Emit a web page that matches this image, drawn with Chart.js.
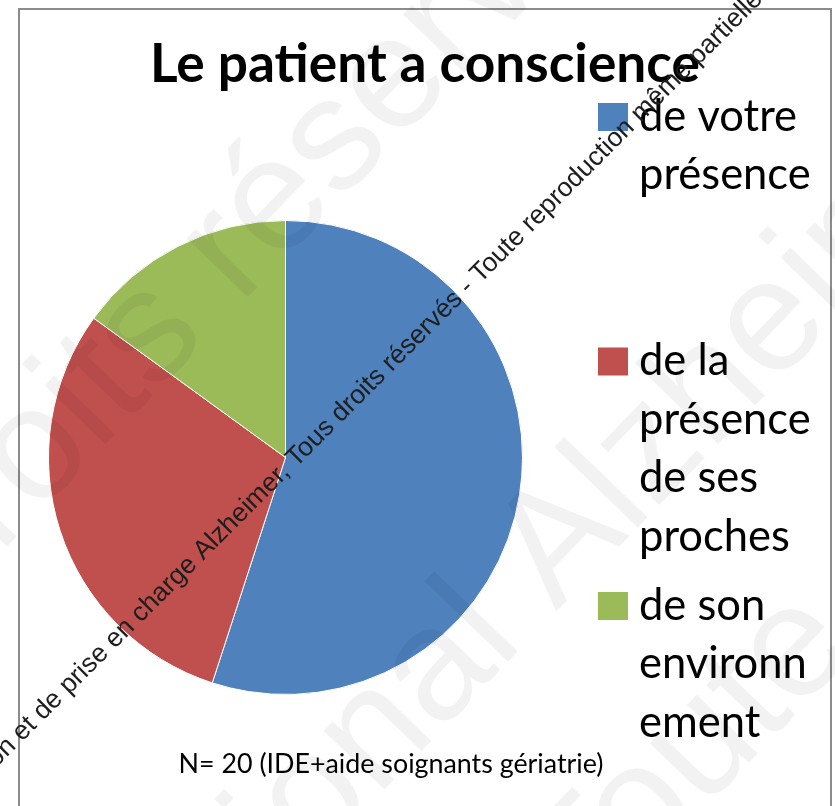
<!DOCTYPE html>
<html>
<head>
<meta charset="utf-8">
<script src="https://cdn.jsdelivr.net/npm/chart.js@4"></script>
<style>
  body { margin: 0; background: #fff; }
  canvas { display: block; }
</style>
</head>
<body>
<canvas id="pieChart" width="835" height="806"></canvas>
<script>
const categories = ['de votre présence', 'de la présence de ses proches', 'de son environnement'];
const legendLines = [['de votre', 'présence'], ['de la', 'présence', 'de ses', 'proches'], ['de son', 'environn', 'ement']];
const counts = [11, 6, 3];
const colors = ['#4F81BD', '#C0504D', '#9BBB59'];
const titleText = 'Le patient a conscience';
const noteText = 'N= 20 (IDE+aide soignants gériatrie)';
const stampLeft = 'tion et de prise en charge Alzheimer, ';
const stampRight = 'Tous droits réservés - Toute reproduction même partielle';

// taille de police pour qu'un texte fasse une largeur donnée
function fitFont(ctx, text, weight, family, width) {
  ctx.font = weight + ' 100px ' + family;
  return 100 * width / ctx.measureText(text).width;
}

function diag(ctx, x, y, angle, left, right) {
  ctx.save();
  ctx.translate(x, y);
  ctx.rotate(angle);
  ctx.textAlign = 'right';
  ctx.fillText(left, 0, 0);
  ctx.textAlign = 'left';
  ctx.fillText(right, 0, 0);
  ctx.restore();
}

const decor = {
  id: 'decor',
  beforeDraw(chart) {
    const ctx = chart.ctx;
    ctx.save();
    ctx.fillStyle = '#fff';
    ctx.fillRect(0, 0, chart.width, chart.height);
    ctx.restore();
  },
  afterDraw(chart) {
    const ctx = chart.ctx;
    ctx.save();
    ctx.textBaseline = 'alphabetic';

    // titre
    ctx.fillStyle = '#000';
    ctx.textAlign = 'center';
    const ts = fitFont(ctx, titleText, 'bold', 'Lato', 550);
    ctx.font = 'bold ' + ts + 'px Lato';
    ctx.fillText(titleText, 425, 82);

    // note
    const ns = fitFont(ctx, noteText, 'normal', 'Lato', 425);
    ctx.font = ns + 'px Lato';
    ctx.fillText(noteText, 391, 773);

    // légende
    ctx.textAlign = 'left';
    ctx.font = '43.5px Lato';
    legendLines.forEach((lines, i) => {
      const top = 103 + i * 244.5;
      ctx.fillStyle = colors[i];
      ctx.fillRect(598, top, 30, 28);
      ctx.fillStyle = '#000';
      lines.forEach((l, j) => ctx.fillText(l, 639, top + 27.5 + j * 58.5));
    });

    // cadre
    ctx.strokeStyle = '#8c8c8c';
    ctx.lineWidth = 2;
    ctx.strokeRect(19, 9, 812, 820);

    // filigrane
    ctx.fillStyle = 'rgba(0,0,0,0.05)';
    ctx.font = '160px "Liberation Sans"';
    const a = -46 * Math.PI / 180;
    diag(ctx, 240, 305, a, 'Tous droits ', 'réservés');
    diag(ctx, 556, 612, a, 'national ', 'Alzheimer');
    diag(ctx, 586, 931, a, '', 'Toute reproduction');

    // mention de droits
    ctx.fillStyle = '#1e1e1e';
    ctx.font = '26.5px "Liberation Sans"';
    diag(ctx, 296, 468, -Math.PI / 4, stampLeft, stampRight);
    ctx.restore();
  }
};

const ctx = document.getElementById('pieChart').getContext('2d');
const myChart = new Chart(ctx, {
  type: 'pie',
  data: {
    labels: categories,
    datasets: [{
      data: counts,
      backgroundColor: colors,
      borderColor: '#ffffff',
      borderWidth: 1
    }]
  },
  options: {
    responsive: false,
    animation: false,
    layout: { padding: { left: 48, top: 220, right: 312, bottom: 111 } },
    plugins: {
      legend: { display: false },
      title: { display: false },
      tooltip: { enabled: false }
    }
  },
  plugins: [decor]
});
</script>
</body>
</html>
